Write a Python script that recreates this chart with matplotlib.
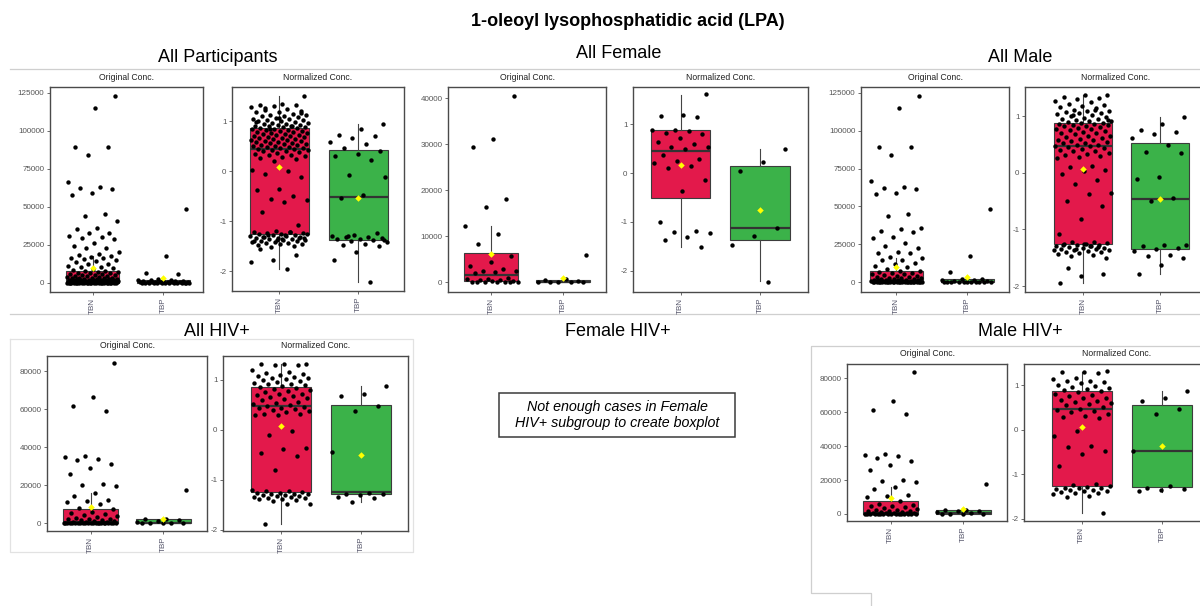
import numpy as np
import matplotlib.pyplot as plt

plt.rcParams['font.family'] = ['Liberation Sans', 'DejaVu Sans']

groups = ['TBN', 'TBP']
box_colors = ['#E3194B', '#3BB249']

# ---- data (y values of the jittered points) ----
# All Participants
ap_orig_tbn = [123000, 115000, 89500, 89000, 84000, 66500, 63000, 62500, 61500, 59000,
               58000, 45000, 44000, 40500, 36000, 35000, 33000, 32500, 31000, 30000,
               29500, 29000, 26000, 24000, 23000, 22500, 20000, 19000, 18500, 17500,
               17000, 16500, 16000, 15500, 15000, 14000, 13500, 12500, 12000, 11000,
               10500, 10000, 9500, 9000, 8500,
               7800, 7400, 7100, 6900, 6600, 6300, 6100, 5900, 5600, 5300, 5100, 4800,
               4600, 4300, 4100, 3900, 3700, 3400, 3200, 3000, 2900, 2800, 2600, 2500,
               2400, 2300, 2200, 2100, 2000, 1900, 1800, 1700, 1600, 1500, 1450, 1400,
               1300, 1200, 1150, 1100, 1000, 950, 900, 850, 800, 750, 700, 650, 600,
               550, 500, 450, 400, 350, 300, 250, 200, 180, 150, 120, 100, 80, 60, 40,
               30, 20, 10, 0, 0, 0, 0, 0, 0, 0, 0, 0, 0, 0, 0, 0, 0, 0, 0, 0, 0]
ap_orig_tbp = [48500, 17500, 6500, 6000, 2500, 2000, 1800, 1500, 1200, 1000, 900, 800,
               700, 600, 500, 400, 350, 300, 250, 200, 150, 100, 80, 50, 30,
               0, 0, 0, 0, 0, 0, 0, 0, 0, 0]
ap_norm_tbn = [1.50, 1.35, 1.33, 1.32, 1.30, 1.28, 1.25, 1.22, 1.20, 1.19, 1.18, 1.15,
               1.13, 1.12, 1.10, 1.10, 1.08, 1.07, 1.05, 1.05, 1.03, 1.02, 1.00, 1.00,
               0.98, 0.97, 0.96, 0.95, 0.94, 0.93, 0.92, 0.91, 0.90, 0.90, 0.89, 0.88,
               0.87, 0.86, 0.85, 0.84, 0.83, 0.82, 0.81, 0.80, 0.79, 0.78, 0.77, 0.76,
               0.75, 0.74, 0.73, 0.72, 0.71, 0.70, 0.69, 0.68, 0.67, 0.66, 0.65, 0.64,
               0.63, 0.62, 0.61, 0.60, 0.59, 0.58, 0.57, 0.56, 0.55, 0.54, 0.53, 0.52,
               0.51, 0.50, 0.49, 0.48, 0.47, 0.46, 0.45, 0.44, 0.43, 0.42, 0.41, 0.40,
               0.38, 0.36, 0.35, 0.33, 0.32, 0.30, 0.28, 0.27, 0.25, 0.20, 0.02, 0.00,
               -0.05, -0.12, -0.35, -0.38, -0.50, -0.55, -0.58, -0.62, -0.82, -1.07,
               -1.20, -1.21, -1.22, -1.23, -1.24, -1.25, -1.26, -1.27, -1.28, -1.29,
               -1.30, -1.31, -1.32, -1.33, -1.34, -1.35, -1.36, -1.37, -1.38, -1.39,
               -1.40, -1.41, -1.42, -1.43, -1.44, -1.45, -1.46, -1.48, -1.50, -1.52,
               -1.25, -1.28, -1.31, -1.34, -1.37, -1.40, -1.22, -1.27, -1.33, -1.36,
               -1.55, -1.68, -1.78, -1.82, -1.95, 1.27, 1.16, 1.06, 0.99, 0.91, 0.84]
ap_norm_tbp = [0.95, 0.85, 0.72, 0.70, 0.67, 0.59, 0.55, 0.47, 0.40, 0.35, 0.31, 0.23,
               -0.08, -0.12, -0.48, -0.53, -1.24, -1.28, -1.30, -1.31, -1.32, -1.33,
               -1.35, -1.36, -1.38, -1.40, -1.42, -1.45, -1.47, -1.50, -1.62, -1.78,
               -2.22, -1.30, -1.37]

# All Female
f_orig_tbn = [40500, 31200, 29500, 18100, 16300, 12300, 10600, 8300, 5700, 4400, 3600,
              2900, 2500, 2400, 2300, 2000, 1000, 800, 700, 600, 500, 300, 200, 100,
              0, 0, 0, 0, 0, 0]
f_orig_tbp = [6000, 800, 500, 300, 100, 0, 0, 0, 0]
f_norm_tbn = [1.62, 1.19, 1.17, 1.14, 0.88, 0.88, 0.87, 0.82, 0.80, 0.72, 0.64, 0.60,
              0.53, 0.53, 0.50, 0.38, 0.29, 0.25, 0.21, 0.14, 0.10, -0.15, -0.37, -1.01,
              -1.19, -1.21, -1.22, -1.31, -1.37, -1.52]
f_norm_tbp = [0.49, 0.23, 0.04, -1.13, -1.28, -1.47, -2.24]

# All Male
m_orig_tbn = [123000, 115000, 89500, 89000, 84000, 66500, 63000, 62000, 61500, 59000,
              58000, 45000, 44000, 36000, 35000, 34000, 33000, 30000, 29000, 26000,
              24000, 22500, 20000, 19500, 19000, 16500, 16000, 15000, 14500, 13000,
              12000, 10500, 10000, 9000,
              7600, 7200, 6800, 6400, 6000, 5600, 5200, 4800, 4400, 4000, 3600, 3300,
              3000, 2800, 2600, 2400, 2200, 2000, 1800, 1600, 1500, 1400, 1300, 1200,
              1100, 1000, 900, 800, 700, 650, 600, 550, 500, 450, 400, 350, 300, 250,
              200, 150, 100, 80, 50, 30, 10, 0, 0, 0, 0, 0, 0, 0, 0, 0, 0, 0, 0, 0, 0]
m_orig_tbp = [48500, 17500, 6500, 2500, 2000, 1500, 1200, 1000, 800, 500, 300, 200, 100,
              0, 0, 0, 0, 0, 0, 0]
m_norm_tbn = [1.38, 1.37, 1.35, 1.33, 1.30, 1.27, 1.25, 1.22, 1.20, 1.18, 1.16, 1.14,
              1.12, 1.10, 1.09, 1.08, 1.06, 1.05, 1.04, 1.02, 1.00, 0.99, 0.97, 0.96,
              0.95, 0.93, 0.92, 0.91, 0.90, 0.89, 0.88, 0.87, 0.86, 0.85, 0.84, 0.83,
              0.82, 0.81, 0.80, 0.78, 0.77, 0.75, 0.74, 0.72, 0.71, 0.70, 0.68, 0.66,
              0.65, 0.63, 0.62, 0.60, 0.59, 0.58, 0.57, 0.55, 0.53, 0.52, 0.50, 0.49,
              0.48, 0.47, 0.45, 0.44, 0.42, 0.40, 0.39, 0.38, 0.35, 0.33, 0.32, 0.30,
              0.28, 0.26, 0.13, 0.10, 0.05, 0.03, -0.02, -0.13, -0.20, -0.35, -0.37,
              -0.50, -0.58, -0.82, -1.08, -1.22, -1.23, -1.24, -1.25, -1.26, -1.27,
              -1.28, -1.29, -1.30, -1.31, -1.32, -1.33, -1.34, -1.35, -1.36, -1.37,
              -1.38, -1.39, -1.40, -1.42, -1.43, -1.45, -1.47, -1.50, -1.25, -1.28,
              -1.31, -1.34, -1.37, -1.30, -1.68, -1.78, -1.82, -1.95, 1.11, 1.02, 0.94]
m_norm_tbp = [0.98, 0.87, 0.75, 0.72, 0.69, 0.62, 0.50, 0.37, 0.35, -0.07, -0.10, -0.45,
              -0.50, -1.27, -1.28, -1.30, -1.33, -1.35, -1.38, -1.45, -1.47, -1.50,
              -1.63, -1.78]

# All HIV+
h_orig_tbn = [84000, 66500, 61500, 59000, 35500, 35000, 34000, 33000, 31000, 29000,
              26000, 20500, 20000, 19500, 16000, 14500, 12500, 11500, 11000, 10000, 8000,
              7500, 6000, 5500, 5000, 4500, 4000, 3500, 3000, 2500, 2200, 2000, 1800,
              1500, 1200, 1000, 800, 600, 500, 400, 300, 200, 100, 50,
              0, 0, 0, 0, 0, 0, 0, 0, 0, 0, 0, 0, 0, 0, 0, 0, 0, 0]
h_orig_tbp = [17500, 2500, 2000, 1500, 1000, 500, 200, 0, 0, 0, 0]
h_norm_tbn = [1.33, 1.33, 1.32, 1.31, 1.30, 1.20, 1.17, 1.15, 1.13, 1.10, 1.09, 1.07,
              1.05, 1.05, 1.03, 1.00, 0.98, 0.97, 0.95, 0.93, 0.92, 0.90, 0.88, 0.87,
              0.85, 0.82, 0.80, 0.78, 0.76, 0.73, 0.72, 0.70, 0.68, 0.66, 0.64, 0.62,
              0.60, 0.57, 0.55, 0.52, 0.50, 0.48, 0.47, 0.45, 0.44, 0.42, 0.40, 0.38,
              0.36, 0.33, 0.32, 0.30, 0.30, -0.02, -0.10, -0.35, -0.38, -0.45, -0.52,
              -0.79, -1.20, -1.21, -1.22, -1.24, -1.25, -1.26, -1.27, -1.28, -1.28,
              -1.29, -1.30, -1.31, -1.32, -1.33, -1.34, -1.35, -1.36, -1.37, -1.38,
              -1.40, -1.42, -1.47, -1.48, -1.87]
h_norm_tbp = [0.89, 0.72, 0.68, 0.49, 0.39, -0.44, -1.25, -1.27, -1.28, -1.30, -1.33,
              -1.35, -1.43]

# Male HIV+
mh_orig_tbn = [84000, 66500, 61500, 59000, 35500, 35000, 34000, 33000, 31000, 29000,
               26000, 20000, 19500, 19000, 16000, 14500, 11000, 10500, 10000, 7500,
               6000, 5500, 5000, 4500, 4000, 3500, 3000, 2500, 2200, 2000, 1800, 1500,
               1200, 1000, 800, 600, 500, 400, 300, 200, 100,
               0, 0, 0, 0, 0, 0, 0, 0, 0, 0, 0, 0, 0, 0]
mh_orig_tbp = [17500, 2500, 2300, 2000, 1500, 1000, 500, 0, 0, 0, 0]
mh_norm_tbn = [1.31, 1.30, 1.29, 1.28, 1.15, 1.13, 1.10, 1.08, 1.06, 1.05, 1.00, 0.97,
               0.95, 0.93, 0.90, 0.88, 0.86, 0.84, 0.80, 0.78, 0.75, 0.72, 0.70, 0.67,
               0.65, 0.62, 0.60, 0.58, 0.55, 0.50, 0.47, 0.45, 0.42, 0.40, 0.35, 0.30,
               0.28, 0.27, -0.03, -0.15, -0.37, -0.40, -0.47, -0.55, -0.82, -1.23,
               -1.25, -1.27, -1.28, -1.30, -1.30, -1.32, -1.33, -1.35, -1.36, -1.37,
               -1.38, -1.40, -1.42, -1.43, -1.45, -1.48, -1.52, -1.88]
mh_norm_tbp = [0.87, 0.70, 0.65, 0.47, 0.36, -0.47, -1.27, -1.30, -1.33, -1.35, -1.38]

# box statistics: (lower whisker, q1, median, q3, upper whisker, mean)
ap_orig_stats = [(0, 100, 1000, 7600, 17500, 9800), (0, 50, 500, 2000, 3500, 3300)]
ap_norm_stats = [(-1.95, -1.25, 0.45, 0.87, 1.50, 0.08), (-2.22, -1.37, -0.52, 0.43, 0.95, -0.53)]
f_orig_stats = [(0, 200, 1500, 6400, 12300, 6200), (0, 0, 100, 500, 700, 1000)]
f_norm_stats = [(-1.52, -0.52, 0.45, 0.88, 1.60, 0.16), (-2.22, -1.38, -1.13, 0.14, 0.50, -0.76)]
m_orig_stats = [(0, 100, 700, 7400, 16000, 10300), (0, 50, 300, 2300, 5000, 3500)]
m_norm_stats = [(-1.95, -1.25, 0.47, 0.88, 1.38, 0.06), (-1.78, -1.35, -0.47, 0.53, 0.98, -0.46)]
h_orig_stats = [(0, 100, 800, 7500, 16100, 8700), (0, 50, 300, 2300, 2500, 2100)]
h_norm_stats = [(-1.87, -1.23, 0.48, 0.87, 1.33, 0.08), (-1.43, -1.28, -1.23, 0.50, 0.88, -0.49)]
mh_orig_stats = [(0, 100, 800, 7400, 16100, 9200), (0, 50, 300, 2300, 2500, 2700)]
mh_norm_stats = [(-1.88, -1.27, 0.47, 0.86, 1.30, 0.05), (-1.40, -1.29, -0.47, 0.56, 0.86, -0.36)]

orig_ticks_big = [0, 25000, 50000, 75000, 100000, 125000]
orig_ticks_f = [0, 10000, 20000, 30000, 40000]
orig_ticks_h = [0, 20000, 40000, 60000, 80000]
norm_ticks = [-2, -1, 0, 1]

W, H = 1200, 606
fig = plt.figure(figsize=(12, 6.06), dpi=100)

# background layer in pixel coordinates for titles and frame lines
bg = fig.add_axes([0, 0, 1, 1])
bg.set_xlim(0, W)
bg.set_ylim(H, 0)
bg.axis('off')

line_c = '#cfcfcf'
bg.plot([10, 1200], [69, 69], color=line_c, lw=0.9)
bg.plot([10, 1200], [314, 314], color=line_c, lw=0.9)
bg.plot([10, 413, 413, 10, 10], [339, 339, 552, 552, 339], color='#e2e2e2', lw=0.9)
bg.plot([1200, 811, 811, 871, 871], [346, 346, 593, 593, 606], color='#cfcfcf', lw=0.9)

bg.text(628, 22, '1-oleoyl lysophosphatidic acid (LPA)', ha='center', va='center',
        fontsize=13, fontweight='bold')
for x, y, t in [(218, 57, 'All Participants'), (619, 53, 'All Female'), (1020, 57, 'All Male'),
                (217, 332, 'All HIV+'), (618, 332, 'Female HIV+'), (1020, 331, 'Male HIV+')]:
    bg.text(x, y, t, ha='center', va='center', fontsize=13)

bg.add_patch(plt.Rectangle((499, 393), 236, 44, fill=False, edgecolor='#3a3a3a', lw=1.1))
bg.text(617, 415, 'Not enough cases in Female\nHIV+ subgroup to create boxplot',
        ha='center', va='center', fontsize=10.3, style='italic', linespacing=1.15)


def jitter(n, width=0.37):
    # deterministic spread across the box width (golden-ratio steps)
    k = np.arange(n) + 1
    return ((k * 0.6180339887 + 0.31) % 1 - 0.5) * 2 * width


def panel(x0, y0, x1, y1, tbn, tbp, stats, xlim, ylim, ticks, title):
    ax = fig.add_axes([x0 / W, 1 - y1 / H, (x1 - x0) / W, (y1 - y0) / H])
    for i, (vals, st, col) in enumerate(zip([tbn, tbp], stats, box_colors)):
        b = dict(whislo=st[0], q1=st[1], med=st[2], q3=st[3], whishi=st[4], fliers=[])
        ax.bxp([b], positions=[i + 1], widths=0.75, patch_artist=True, showcaps=False,
               boxprops=dict(facecolor=col, edgecolor='#3c3c3c', linewidth=0.8),
               medianprops=dict(color='#333333', linewidth=1.6),
               whiskerprops=dict(color='#444444', linewidth=0.8))
        ax.scatter(i + 1 + jitter(len(vals)), vals, s=10, color='black', linewidths=0, zorder=3)
        ax.scatter([i + 1], [st[5]], marker='D', s=11, color='#FFFF00', linewidths=0, zorder=4)
    ax.set_xlim(*xlim)
    ax.set_ylim(*ylim)
    ax.set_xticks([1, 2])
    ax.set_xticklabels(groups, rotation=90, fontsize=5.8, color='#55556a')
    ax.set_yticks(ticks)
    ax.set_yticklabels([str(t) for t in ticks], fontsize=5.8, color='#555555')
    ax.tick_params(length=2.5, width=0.6, color='#555555', pad=1.5)
    for s in ax.spines.values():
        s.set_color('#4a4a4a')
        s.set_linewidth(1.0)
    bg.text((x0 + x1) / 2, y0 - 10, title, ha='center', va='center', fontsize=6.2, color='#222222')
    return ax


panel(50, 87, 203, 292, ap_orig_tbn, ap_orig_tbp, ap_orig_stats, (0.395, 2.56),
      (-6120, 128750), orig_ticks_big, 'Original Conc.')
panel(232, 87, 404, 291, ap_norm_tbn, ap_norm_tbp, ap_norm_stats, (0.40, 2.58),
      (-2.40, 1.685), norm_ticks, 'Normalized Conc.')
panel(448, 87, 606, 292, f_orig_tbn, f_orig_tbp, f_orig_stats, (0.405, 2.59),
      (-2110, 42460), orig_ticks_f, 'Original Conc.')
panel(633, 87, 808, 292, f_norm_tbn, f_norm_tbp, f_norm_stats, (0.40, 2.605),
      (-2.437, 1.764), norm_ticks, 'Normalized Conc.')
panel(861, 87, 1009, 292, m_orig_tbn, m_orig_tbp, m_orig_stats, (0.50, 2.59),
      (-6395, 128760), orig_ticks_big, 'Original Conc.')
panel(1025, 87, 1206, 292, m_norm_tbn, m_norm_tbp, m_norm_stats, (0.25, 2.6),
      (-2.105, 1.518), norm_ticks, 'Normalized Conc.')
panel(47, 356, 207, 531, h_orig_tbn, h_orig_tbp, h_orig_stats, (0.40, 2.60),
      (-4045, 87890), orig_ticks_h, 'Original Conc.')
panel(223, 356, 408, 531, h_norm_tbn, h_norm_tbp, h_norm_stats, (0.275, 2.59),
      (-2.02, 1.48), norm_ticks, 'Normalized Conc.')
panel(847, 364, 1007, 521, mh_orig_tbn, mh_orig_tbp, mh_orig_stats, (0.40, 2.60),
      (-4127, 88430), orig_ticks_h, 'Original Conc.')
panel(1024, 364, 1210, 521, mh_norm_tbn, mh_norm_tbp, mh_norm_stats, (0.28, 2.6),
      (-2.05, 1.472), norm_ticks, 'Normalized Conc.')

fig.savefig('out.png', dpi=100)
